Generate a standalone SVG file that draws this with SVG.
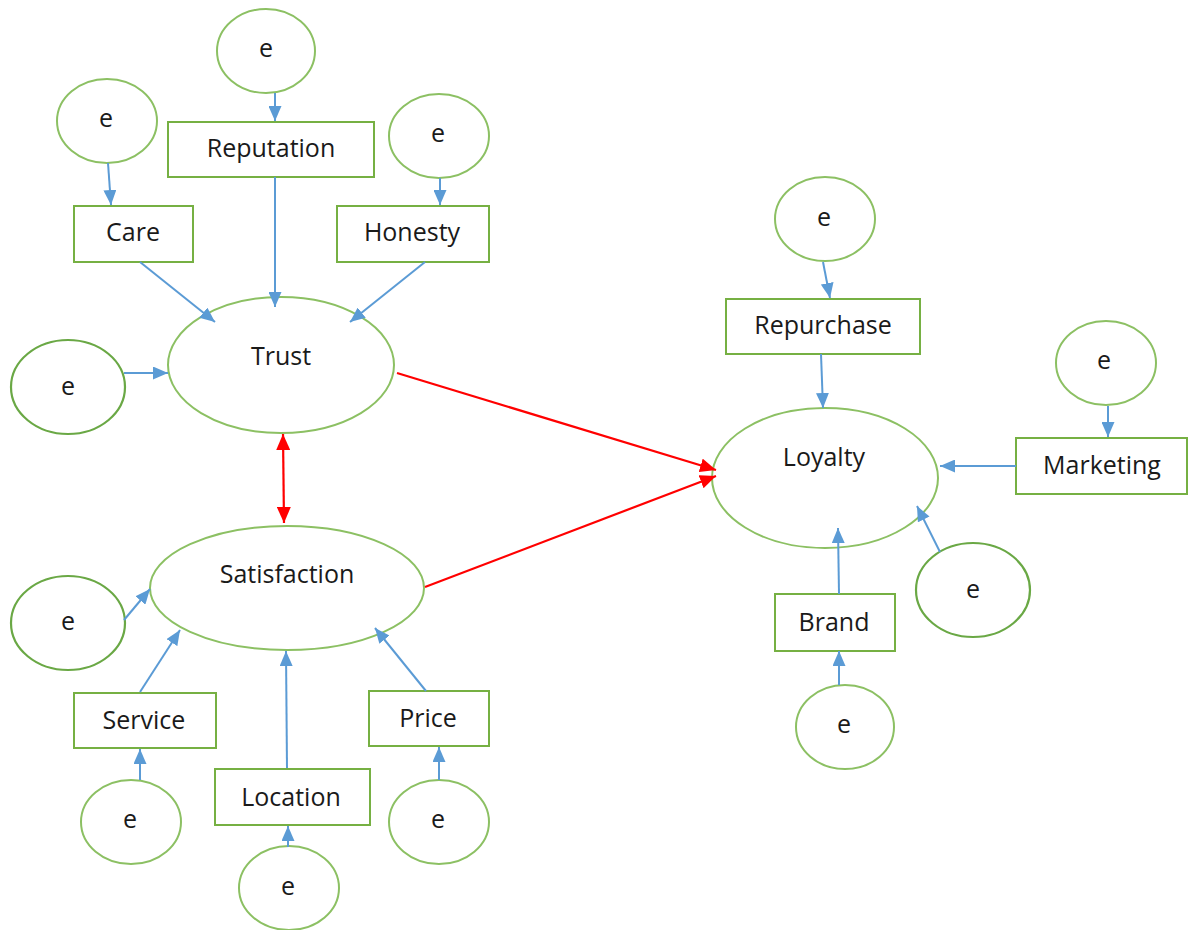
<svg xmlns="http://www.w3.org/2000/svg" width="1189" height="930" viewBox="0 0 1189 930">
  <defs>
    <style>
      .lat { fill: #ffffff; stroke: #8CC063; stroke-width: 2; }
      .err { fill: #ffffff; stroke: #8CC063; stroke-width: 2; }
      .err2 { fill: #ffffff; stroke: #6AA845; stroke-width: 2.2; }
      .box { fill: #ffffff; stroke: #76B043; stroke-width: 2; }
      .lbl { font-family: "Open Sans", "Liberation Sans", sans-serif; font-size: 25px; fill: #1a1a1a; text-anchor: middle; }
      .blue { stroke: #5B9BD5; stroke-width: 2; fill: none; marker-end: url(#ab); }
      .red { stroke: #FF0000; stroke-width: 2.2; fill: none; marker-end: url(#ar); }
    </style>
    <marker id="ab" viewBox="0 0 15 13" refX="15" refY="6.5" markerWidth="15" markerHeight="13" markerUnits="userSpaceOnUse" orient="auto">
      <path d="M0,0 L15,6.5 L0,13 Z" fill="#5B9BD5"/>
    </marker>
    <marker id="ar" viewBox="0 0 16 14" refX="16" refY="7" markerWidth="16" markerHeight="14" markerUnits="userSpaceOnUse" orient="auto">
      <path d="M0,0 L16,7 L0,14 Z" fill="#FF0000"/>
    </marker>
    <marker id="ars" viewBox="0 0 16 14" refX="0" refY="7" markerWidth="16" markerHeight="14" markerUnits="userSpaceOnUse" orient="auto">
      <path d="M16,0 L0,7 L16,14 Z" fill="#FF0000"/>
    </marker>
  </defs>

  <!-- Trust block -->
  <g id="e-reputation"><ellipse class="err" cx="266" cy="51" rx="49" ry="42"/><text class="lbl" x="266" y="57">e</text></g>
  <g id="e-care"><ellipse class="err" cx="107" cy="121" rx="50" ry="42"/><text class="lbl" x="106" y="127">e</text></g>
  <g id="e-honesty"><ellipse class="err" cx="439" cy="136" rx="50" ry="42"/><text class="lbl" x="438" y="142">e</text></g>
  <g id="reputation"><rect class="box" x="168" y="122" width="206" height="55"/><text class="lbl" x="271" y="157">Reputation</text></g>
  <g id="care"><rect class="box" x="74" y="206" width="119" height="56"/><text class="lbl" x="133" y="241">Care</text></g>
  <g id="honesty"><rect class="box" x="337" y="206" width="152" height="56"/><text class="lbl" x="412" y="241">Honesty</text></g>
  <g id="trust"><ellipse class="lat" cx="281" cy="365" rx="113" ry="68"/><text class="lbl" x="281" y="365">Trust</text></g>
  <g id="e-trust"><ellipse class="err2" cx="68" cy="387" rx="57" ry="47"/><text class="lbl" x="68" y="395">e</text></g>

  <!-- Satisfaction block -->
  <g id="satisfaction"><ellipse class="lat" cx="287" cy="588" rx="137" ry="62"/><text class="lbl" x="287" y="583">Satisfaction</text></g>
  <g id="e-satisfaction"><ellipse class="err2" cx="68" cy="623" rx="57" ry="47"/><text class="lbl" x="68" y="630">e</text></g>
  <g id="service"><rect class="box" x="74" y="693" width="142" height="55"/><text class="lbl" x="144" y="729">Service</text></g>
  <g id="location"><rect class="box" x="215" y="769" width="155" height="56"/><text class="lbl" x="291" y="806">Location</text></g>
  <g id="price"><rect class="box" x="369" y="691" width="120" height="55"/><text class="lbl" x="428" y="727">Price</text></g>
  <g id="e-service"><ellipse class="err" cx="131" cy="822" rx="50" ry="42"/><text class="lbl" x="130" y="828">e</text></g>
  <g id="e-location"><ellipse class="err" cx="289" cy="888" rx="50" ry="42"/><text class="lbl" x="288" y="895">e</text></g>
  <g id="e-price"><ellipse class="err" cx="439" cy="822" rx="50" ry="42"/><text class="lbl" x="438" y="828">e</text></g>

  <!-- Loyalty block -->
  <g id="e-repurchase"><ellipse class="err" cx="825" cy="219" rx="50" ry="42"/><text class="lbl" x="824" y="226">e</text></g>
  <g id="repurchase"><rect class="box" x="726" y="299" width="194" height="55"/><text class="lbl" x="823" y="334">Repurchase</text></g>
  <g id="e-marketing"><ellipse class="err" cx="1106" cy="363" rx="50" ry="42"/><text class="lbl" x="1104" y="369">e</text></g>
  <g id="marketing"><rect class="box" x="1016" y="438" width="171" height="56"/><text class="lbl" x="1102" y="474">Marketing</text></g>
  <g id="loyalty"><ellipse class="lat" cx="825" cy="478" rx="113" ry="70"/><text class="lbl" x="824" y="466">Loyalty</text></g>
  <g id="e-loyalty"><ellipse class="err2" cx="973" cy="590" rx="57" ry="47"/><text class="lbl" x="973" y="598">e</text></g>
  <g id="brand"><rect class="box" x="775" y="594" width="120" height="57"/><text class="lbl" x="834" y="631">Brand</text></g>
  <g id="e-brand"><ellipse class="err" cx="845" cy="727" rx="49" ry="42"/><text class="lbl" x="844" y="733">e</text></g>

  <!-- connectors, drawn over the node outlines so the heads stay visible -->
  <g id="connectors">
    <!-- trust indicators -->
    <line class="blue" x1="108" y1="163" x2="111" y2="205"/>
    <line class="blue" x1="275" y1="93" x2="275" y2="121"/>
    <line class="blue" x1="440" y1="178" x2="440" y2="205"/>
    <line class="blue" x1="140" y1="262" x2="215" y2="322"/>
    <line class="blue" x1="275" y1="177" x2="275" y2="307"/>
    <line class="blue" x1="425" y1="262" x2="350" y2="322"/>
    <line class="blue" x1="124" y1="373" x2="168" y2="373"/>
    <!-- satisfaction indicators -->
    <line class="blue" x1="124" y1="620" x2="150" y2="589"/>
    <line class="blue" x1="140" y1="780" x2="140" y2="749"/>
    <line class="blue" x1="140" y1="692" x2="180" y2="630"/>
    <line class="blue" x1="288" y1="847" x2="288" y2="826"/>
    <line class="blue" x1="287" y1="768" x2="286" y2="651"/>
    <line class="blue" x1="439" y1="780" x2="439" y2="747"/>
    <line class="blue" x1="426" y1="691" x2="375" y2="628"/>
    <!-- loyalty indicators -->
    <line class="blue" x1="823" y1="262" x2="830" y2="298"/>
    <line class="blue" x1="821" y1="354" x2="823" y2="408"/>
    <line class="blue" x1="1108" y1="406" x2="1108" y2="437"/>
    <line class="blue" x1="1016" y1="466" x2="940" y2="466"/>
    <line class="blue" x1="839" y1="685" x2="839" y2="651"/>
    <line class="blue" x1="839" y1="594" x2="838" y2="528"/>
    <line class="blue" x1="940" y1="552" x2="917" y2="506"/>
    <!-- structural paths -->
    <line class="red" x1="397" y1="373" x2="716" y2="470"/>
    <line class="red" x1="425" y1="587" x2="716" y2="476"/>
    <line class="red" marker-start="url(#ars)" x1="283" y1="434" x2="284" y2="523"/>
  </g>
</svg>
